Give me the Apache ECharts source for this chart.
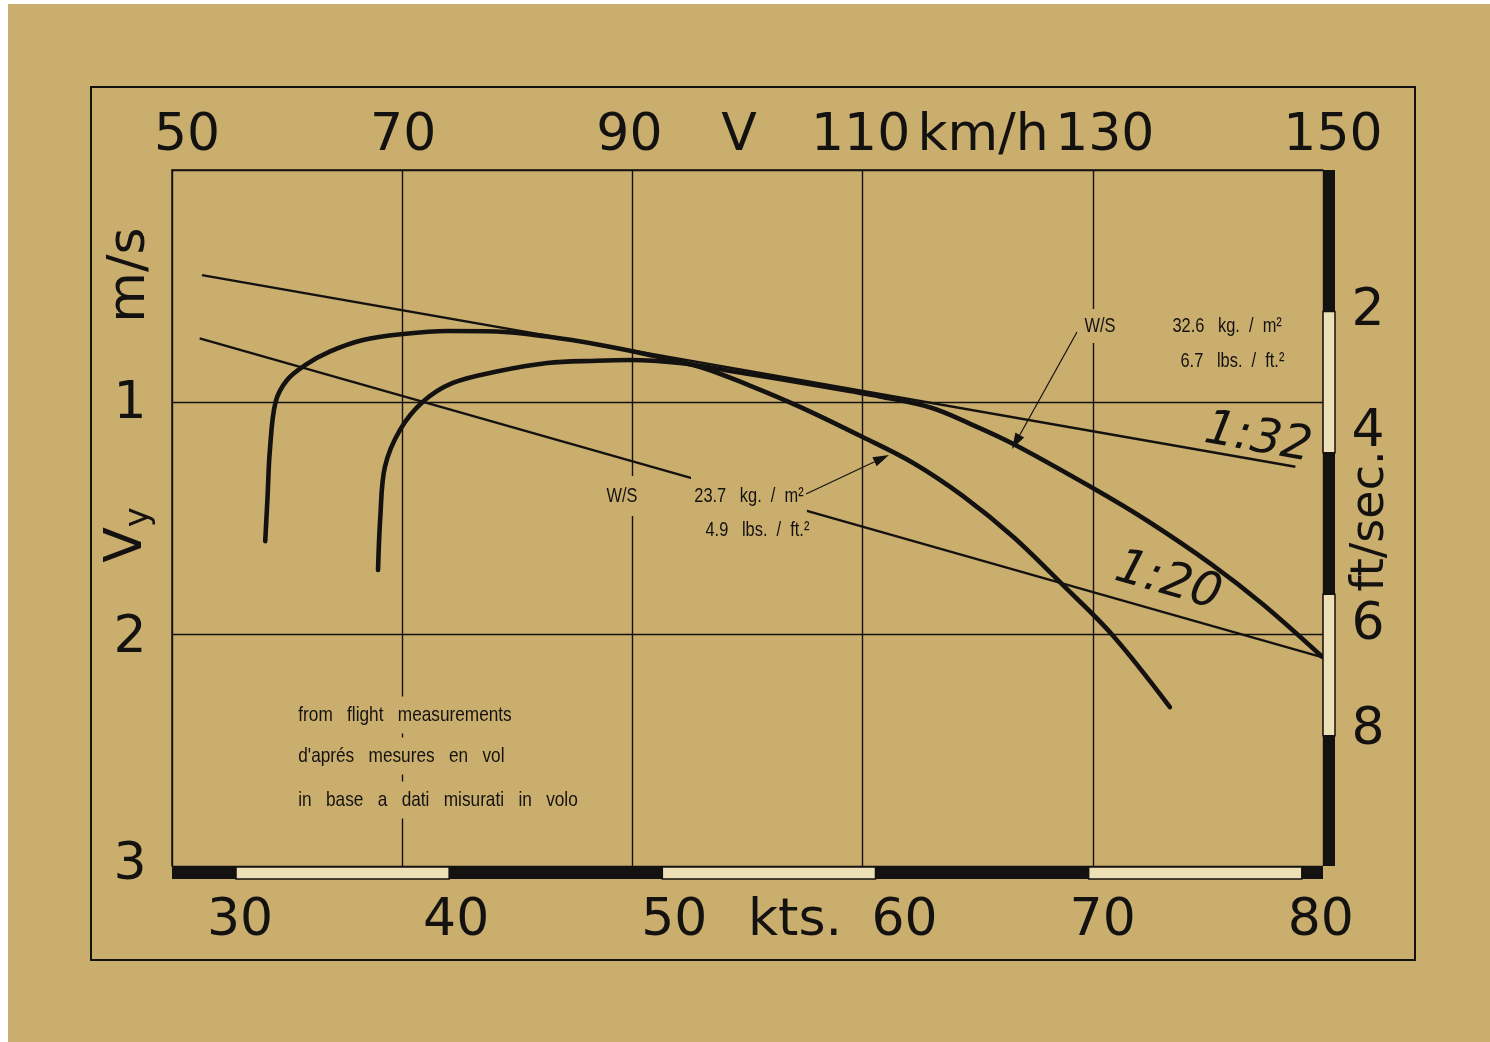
<!DOCTYPE html>
<html>
<head>
<meta charset="utf-8">
<script src="https://cdn.jsdelivr.net/npm/echarts@6/dist/echarts.min.js"></script>
<style>
html,body{margin:0;padding:0;background:#ffffff;}
#bg{position:absolute;left:8px;top:4px;width:1482px;height:1038px;background:#caae6e;}
#chart{position:absolute;left:0;top:0;width:1490px;height:1042px;}
</style>
</head>
<body>
<div id="bg"></div>
<div id="chart"></div>
<script>
// ---------------- data ----------------
const kmhTicks = [50, 70, 90, 110, 130, 150];      // top axis, km/h
const ktsTicks = [30, 40, 50, 60, 70, 80];          // bottom axis, knots
const sinkTicks = [1, 2, 3];                        // left axis, m/s
const ftTicks = [2, 4, 6, 8];                       // right axis, ft/sec

// W/S 23.7 kg/m2 polar (speed km/h, sink m/s)
const speedA = [58.1, 58.3, 58.5, 59.0, 60.0, 61.6, 63.7, 66.6, 70.1, 73.9, 78.2, 82.6, 87.2, 91.5, 95.9, 100.2, 104.6, 110.0, 114.4, 118.7, 123.1, 127.3, 131.7, 136.7];
const sinkA  = [1.60, 1.41, 1.21, 1.00, 0.905, 0.84, 0.783, 0.733, 0.707, 0.694, 0.696, 0.718, 0.754, 0.797, 0.849, 0.929, 1.022, 1.151, 1.263, 1.405, 1.582, 1.784, 2.004, 2.315];

// W/S 32.6 kg/m2 polar
const speedB = [67.9, 68.1, 68.5, 69.8, 71.8, 74.4, 78.2, 82.6, 86.9, 89.8, 94.1, 98.5, 102.8, 108.9, 111.5, 115.9, 119.3, 123.1, 130.0, 134.7, 140.4, 144.8, 149.9];
const sinkB  = [1.724, 1.494, 1.279, 1.121, 0.999, 0.918, 0.869, 0.832, 0.822, 0.819, 0.832, 0.866, 0.901, 0.953, 0.976, 1.024, 1.093, 1.181, 1.371, 1.511, 1.703, 1.873, 2.097];

// glide-ratio tangent lines
const glide32Speed = [52.6, 147.6];
const glide32Sink  = [0.453, 1.279];
const glide20Speed = [52.4, 149.9];
const glide20Sink  = [0.726, 2.10];

// unit conversions
const KMH_PER_KT = 1.852;
const M_PER_FT = 0.3048;

// ---------------- layout / style ----------------
const INK = '#141210';
const PAPER = '#caae6e';
const CREAM = '#eddfb6';
const FONT = "'DejaVu Sans', sans-serif";
const NARROW = "'Liberation Sans', Arimo, sans-serif";

const KMH_MIN = 50, KMH_MAX = 150, SINK_MAX = 3;
const KTS_MIN = KMH_MIN / KMH_PER_KT, KTS_MAX = KMH_MAX / KMH_PER_KT;
const FT_MAX = SINK_MAX / M_PER_FT;

// label nudges (pixels) to match the hand lettering
const topShift = {50: 15, 70: 1, 90: -3, 110: -2, 130: 12, 150: 10};
const bottomShift = {30: 4, 40: 7, 50: 12, 60: 29, 70: 14, 80: 19};
const leftShift = {1: 2, 2: 4, 3: -1};
const rightShift = {2: 0, 4: -20, 6: 31, 8: -5};

function shiftRich(map, prefix, horiz) {
  const rich = {};
  Object.keys(map).forEach(function (k) {
    const d = map[k];
    let pad;
    if (horiz) pad = d >= 0 ? [0, 0, 0, 2 * d] : [0, -2 * d, 0, 0];
    else pad = d >= 0 ? [2 * d, 0, 0, 0] : [0, 0, -2 * d, 0];
    rich[prefix + k] = {fontFamily: FONT, fontSize: 52, color: INK, padding: pad};
  });
  return rich;
}
function zip(a, b) { return a.map(function (v, i) { return [v, b[i]]; }); }

function bands(bounds) {
  const out = [];
  for (let i = 0; i < bounds.length - 1; i++) out.push([bounds[i], bounds[i + 1], i % 2 === 0 ? 1 : 0]);
  return out;
}
const ktsSegments = bands([KTS_MIN].concat(ktsTicks, [KTS_MAX]));
const ftSegments = bands([0].concat(ftTicks, [FT_MAX]));

const BIG = {fontFamily: FONT, fontSize: 52, fill: INK, align: 'center', verticalAlign: 'middle'};

function bigText(x, y, text, rot, size) {
  return {type: 'text', x: x, y: y, rotation: rot || 0, z: 50, silent: true,
    style: Object.assign({text: text}, BIG, size ? {fontSize: size} : {})};
}
function smallText(x, y, text, size, pad, align) {
  return {type: 'text', x: x, y: y, scaleX: 0.82, z: 50, silent: true,
    style: {text: text, fontFamily: NARROW, fontSize: size, fill: INK, align: align || 'left',
      verticalAlign: 'middle', backgroundColor: PAPER, padding: pad, lineHeight: size + 2}};
}
function arrow(tail, tip) {
  const dx = tip[0] - tail[0], dy = tip[1] - tail[1];
  const L = Math.hypot(dx, dy), ux = dx / L, uy = dy / L;
  const hl = 16, hw = 5;
  const bx = tip[0] - ux * hl, by = tip[1] - uy * hl;
  return [
    {type: 'line', z: 60, silent: true, shape: {x1: tail[0], y1: tail[1], x2: bx, y2: by},
      style: {stroke: INK, lineWidth: 1.2}},
    {type: 'polygon', z: 60, silent: true,
      shape: {points: [[tip[0], tip[1]], [bx - uy * hw, by + ux * hw], [bx + uy * hw, by - ux * hw]]},
      style: {fill: INK}}
  ];
}

const graphics = [
  {type: 'rect', z: 1, silent: true, shape: {x: 91, y: 87, width: 1324, height: 873},
    style: {fill: 'none', stroke: INK, lineWidth: 2}},
  bigText(739, 136, 'V'),
  bigText(983, 136, 'km/h'),
  bigText(795, 921, 'kts.'),
  bigText(130, 275, 'm/s', Math.PI / 2),
  bigText(1371, 521, 'ft/sec.', Math.PI / 2, 46),
  {type: 'text', x: 127, y: 535, rotation: Math.PI / 2, z: 50, silent: true,
    style: {text: '{v|V}{s|y}', align: 'center', verticalAlign: 'middle', fill: INK,
      rich: {v: {fontFamily: FONT, fontSize: 52, fill: INK},
             s: {fontFamily: FONT, fontSize: 34, fill: INK, padding: [24, 0, 0, 0]}}}},
  {type: 'text', x: 1258, y: 439, rotation: -0.18, z: 50, silent: true,
    style: {text: '1:32', fontFamily: FONT, fontSize: 48, fontStyle: 'italic', fill: INK, align: 'center', verticalAlign: 'middle'}},
  {type: 'text', x: 1168, y: 582, rotation: -0.28, z: 50, silent: true,
    style: {text: '1:20', fontFamily: FONT, fontSize: 48, fontStyle: 'italic', fill: INK, align: 'center', verticalAlign: 'middle'}},
  // W/S 32.6
  smallText(1100, 326, 'W/S', 20, [6, 3], 'center'),
  smallText(1170, 326, '32.6   kg.  /  m²', 20, [3, 3]),
  smallText(1178, 361, '6.7   lbs.  /  ft.²', 20, [3, 3]),
  // W/S 23.7
  smallText(622, 496, 'W/S', 20, [9, 3], 'center'),
  smallText(691, 496, '23.7   kg.  /  m²', 20, [10, 4, 8, 4]),
  smallText(703, 530, '4.9   lbs.  /  ft.²', 20, [2, 3]),
  // note
  smallText(295, 715, 'from   flight   measurements', 21, [7, 4]),
  smallText(295, 756, "d'aprés   mesures   en   vol", 21, [7, 4]),
  smallText(295, 800, 'in   base   a   dati   misurati   in   volo', 21, [7, 4])
].concat(arrow([1077, 332], [1012, 449]), arrow([806, 494], [889, 455]));

const chart = echarts.init(document.getElementById('chart'), null, {renderer: 'canvas'});
const option = {
  animation: false,
  backgroundColor: 'transparent',
  grid: {left: 172, top: 170, width: 1151, height: 696, show: false},
  xAxis: [
    {
      type: 'value', position: 'top', min: KMH_MIN, max: KMH_MAX, interval: 20,
      axisLine: {show: true, lineStyle: {color: INK, width: 1.5}},
      axisTick: {show: false},
      splitLine: {show: true, lineStyle: {color: INK, width: 1.4}},
      axisLabel: {
        customValues: kmhTicks, margin: 34, verticalAlign: 'middle',
        formatter: function (v) { return '{t' + v + '|' + v + '}'; },
        rich: shiftRich(topShift, 't', true)
      }
    },
    {
      type: 'value', position: 'bottom', min: KTS_MIN, max: KTS_MAX,
      axisLine: {show: false}, axisTick: {show: false}, splitLine: {show: false},
      axisLabel: {
        customValues: ktsTicks, margin: 55, verticalAlign: 'middle',
        formatter: function (v) { return '{b' + v + '|' + v + '}'; },
        rich: shiftRich(bottomShift, 'b', true)
      }
    }
  ],
  yAxis: [
    {
      type: 'value', position: 'left', min: 0, max: SINK_MAX, interval: 1, inverse: true,
      axisLine: {show: true, lineStyle: {color: INK, width: 1.5}},
      axisTick: {show: false},
      splitLine: {show: true, lineStyle: {color: INK, width: 1.4}},
      axisLabel: {
        customValues: sinkTicks, margin: 42, align: 'center', verticalAlign: 'middle',
        formatter: function (v) { return '{l' + v + '|' + v + '}'; },
        rich: shiftRich(leftShift, 'l', false)
      }
    },
    {
      type: 'value', position: 'right', min: 0, max: FT_MAX, inverse: true,
      axisLine: {show: false}, axisTick: {show: false}, splitLine: {show: false},
      axisLabel: {
        customValues: ftTicks, margin: 45, align: 'center', verticalAlign: 'middle',
        formatter: function (v) { return '{r' + v + '|' + v + '}'; },
        rich: shiftRich(rightShift, 'r', false)
      }
    }
  ],
  series: [
    {type: 'line', name: '1:32', data: zip(glide32Speed, glide32Sink), symbol: 'none', silent: true, z: 3,
      lineStyle: {color: INK, width: 2.4}},
    {type: 'line', name: '1:20', data: zip(glide20Speed, glide20Sink), symbol: 'none', silent: true, z: 3,
      lineStyle: {color: INK, width: 2.4}},
    {type: 'line', name: 'W/S 23.7 kg/m²', data: zip(speedA, sinkA), symbol: 'none', smooth: 0.35, silent: true, z: 4,
      lineStyle: {color: INK, width: 4.6, cap: 'round'}},
    {type: 'line', name: 'W/S 32.6 kg/m²', data: zip(speedB, sinkB), symbol: 'none', smooth: 0.35, silent: true, z: 4,
      lineStyle: {color: INK, width: 4.6, cap: 'round'}},
    {
      type: 'custom', name: 'kts bar', xAxisIndex: 1, yAxisIndex: 0, silent: true, z: 6, clip: false,
      data: ktsSegments,
      renderItem: function (params, api) {
        const a = api.coord([api.value(0), SINK_MAX]);
        const b = api.coord([api.value(1), SINK_MAX]);
        const black = api.value(2) === 1;
        return {type: 'rect', shape: {x: a[0], y: a[1] + 1, width: b[0] - a[0], height: 12},
          style: black ? {fill: INK} : {fill: CREAM, stroke: INK, lineWidth: 1.5}};
      }
    },
    {
      type: 'custom', name: 'ft bar', xAxisIndex: 0, yAxisIndex: 1, silent: true, z: 6, clip: false,
      data: ftSegments,
      renderItem: function (params, api) {
        const a = api.coord([KMH_MAX, api.value(0)]);
        const b = api.coord([KMH_MAX, api.value(1)]);
        const black = api.value(2) === 1;
        return {type: 'rect', shape: {x: a[0], y: a[1], width: 12, height: b[1] - a[1]},
          style: black ? {fill: INK} : {fill: CREAM, stroke: INK, lineWidth: 1.5}};
      }
    }
  ],
  graphic: {elements: graphics}
};
chart.setOption(option);
</script>
</body>
</html>
